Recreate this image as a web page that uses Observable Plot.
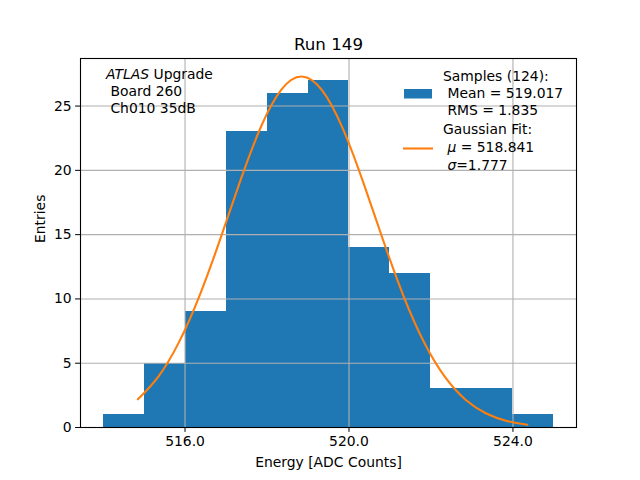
<!DOCTYPE html>
<html><head><meta charset="utf-8">
<script src="https://cdn.jsdelivr.net/npm/d3@7"></script>
<script src="https://cdn.jsdelivr.net/npm/@observablehq/plot@0.6"></script>
<style>
body{margin:0;background:#fff;font-family:"DejaVu Sans",sans-serif}
svg{display:block}
</style>
</head><body><div id="chart"></div>
<script>
// Histogram bins (1 ADC count wide) and counts
const binStarts = [514, 515, 516, 517, 518, 519, 520, 521, 522, 523, 524];
const counts    = [1, 5, 9, 23, 26, 27, 14, 12, 3, 3, 1];
// Gaussian fit curve
const fitX = [514.85, 515.35, 515.85, 516.35, 516.85, 517.35, 517.85, 518.35, 518.85, 519.35,
              519.85, 520.35, 520.85, 521.35, 521.85, 522.35, 522.85, 523.35, 523.85, 524.35];
const fitY = [2.19, 3.96, 6.62, 10.22, 14.57, 19.20, 23.37, 26.28, 27.30, 26.20,
              23.24, 19.04, 14.41, 10.07, 6.51, 3.89, 2.14, 1.09, 0.51, 0.22];
const xTicks = [516, 520, 524];
const yTicks = [0, 5, 10, 15, 20, 25];
const titleText = "Run 149";
const xLabel = "Energy [ADC Counts]";
const yLabel = "Entries";
const legendSamples = ["Samples (124):", " Mean = 519.017", " RMS = 1.835"];
const legendFit = ["Gaussian Fit:", " \u03BC = 518.841", " \u03C3=1.777"];

const bins = binStarts.map((x0, i) => ({x1: x0, x2: x0 + 1, y: counts[i]}));
const fit = fitX.map((x, i) => ({x, y: fitY[i]}));

const blue = "#1f77b4", orange = "#ff7f0e", gridC = "#b0b0b0";
const fs = "13.9px";

const svg = Plot.plot({
  width: 640, height: 480,
  marginLeft: 80, marginRight: 64, marginTop: 58, marginBottom: 53,
  style: {fontFamily: "DejaVu Sans, sans-serif", fontSize: fs, color: "black", background: "white"},
  x: {domain: [513.45, 525.55], label: null},
  y: {domain: [0, 28.7], label: null},
  marks: [
    Plot.rectY(bins, {x1: "x1", x2: "x2", y: "y", fill: blue, inset: 0, shapeRendering: "crispEdges"}),
    Plot.gridX(xTicks, {stroke: gridC, strokeOpacity: 1, strokeWidth: 1.1}),
    Plot.gridY(yTicks, {stroke: gridC, strokeOpacity: 1, strokeWidth: 1.1}),
    Plot.line(fit, {x: "x", y: "y", stroke: orange, strokeWidth: 2.1, curve: "natural"}),
    Plot.frame({stroke: "black", strokeWidth: 1.1}),
    Plot.axisX(xTicks, {tickFormat: d => d.toFixed(1), tickSize: 4.9, tickPadding: 4, label: null, fontSize: fs}),
    Plot.axisY(yTicks, {tickSize: 4.9, tickPadding: 4, label: null, fontSize: fs}),
    Plot.text([xLabel], {frameAnchor: "bottom", dy: 35, fontSize: fs, lineAnchor: "middle"}),
    Plot.text([yLabel], {frameAnchor: "left", rotate: -90, dx: -40, fontSize: fs}),
    Plot.text([titleText], {frameAnchor: "top", dy: -14, fontSize: "16.7px", lineAnchor: "middle"})
  ]
});
document.getElementById("chart").appendChild(svg);

// Annotation and legend overlays
const s = d3.select(svg);
const ann = s.append("g").attr("font-family", "DejaVu Sans, sans-serif").attr("font-size", fs)
  .attr("fill", "black").attr("text-anchor", "start");
const t1 = ann.append("text").attr("x", 106).attr("y", 79);
t1.append("tspan").attr("font-style", "italic").text("ATLAS");
t1.append("tspan").text(" Upgrade");
ann.append("text").attr("x", 106).attr("y", 96).style("white-space", "pre").text(" Board 260");
ann.append("text").attr("x", 106).attr("y", 113).style("white-space", "pre").text(" Ch010 35dB");

const leg = s.append("g").attr("font-family", "DejaVu Sans, sans-serif").attr("font-size", fs)
  .attr("fill", "black").attr("text-anchor", "start");
leg.append("rect").attr("x", 404).attr("y", 89).attr("width", 28).attr("height", 9.5).attr("fill", blue);
leg.append("line").attr("x1", 403).attr("x2", 433).attr("y1", 148.5).attr("y2", 148.5).attr("stroke", orange).attr("stroke-width", 2.1);
const ys1 = [81, 98, 114.5];
legendSamples.forEach((t, i) => leg.append("text").attr("x", 443).attr("y", ys1[i]).style("white-space", "pre").text(t));
const ys2 = [134, 152, 170];
legendFit.forEach((t, i) => {
  const el = leg.append("text").attr("x", 443).attr("y", ys2[i]).style("white-space", "pre");
  if (i === 0) el.text(t);
  else {
    el.append("tspan").text(" ");
    el.append("tspan").attr("font-style", "italic").text(t.trim().charAt(0));
    el.append("tspan").text(t.trim().slice(1));
  }
});
</script>
</body></html>
